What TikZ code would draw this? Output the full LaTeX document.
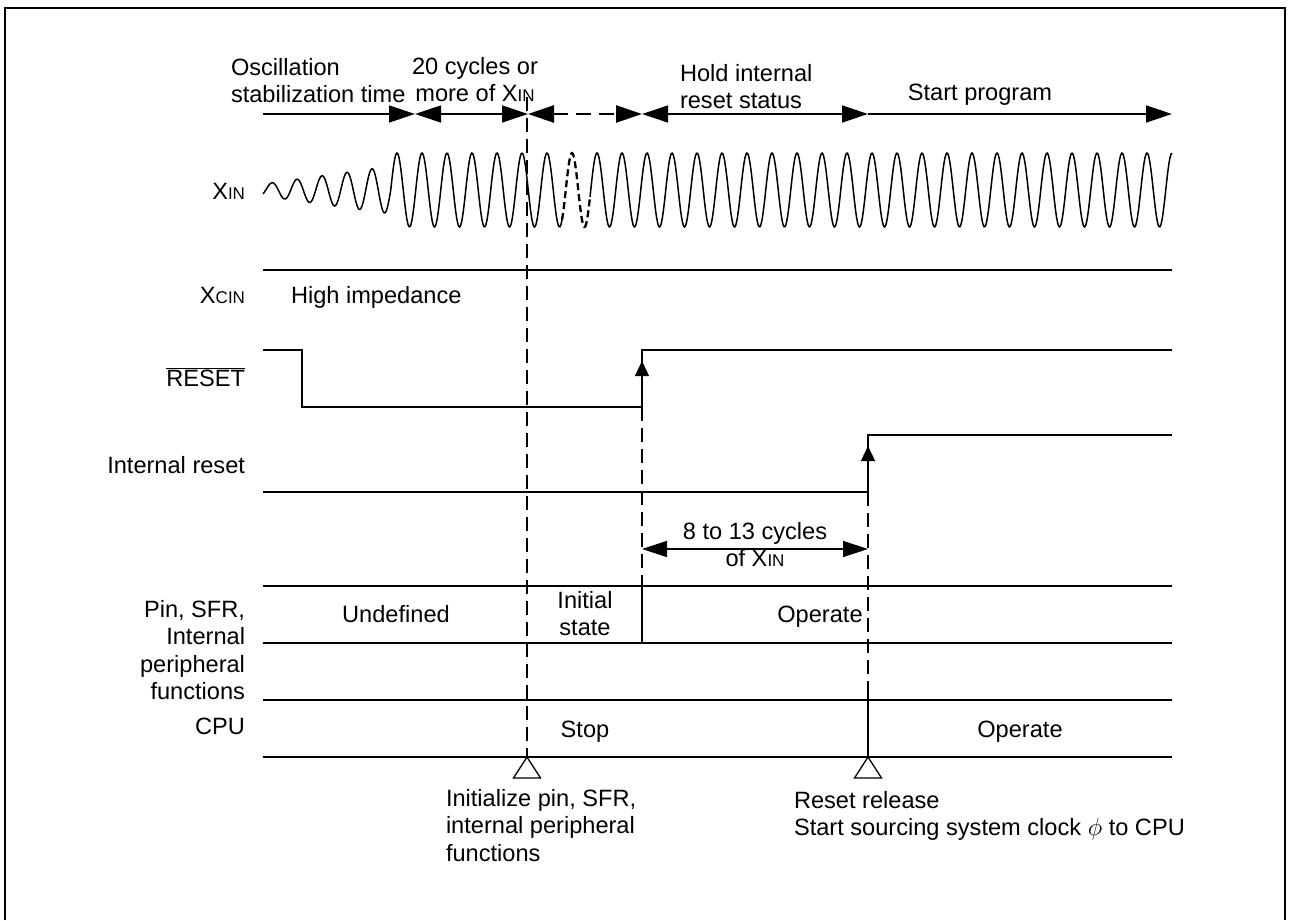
\documentclass[tikz,border=0pt]{standalone}
\usepackage{fontspec}
\setmainfont{Liberation Sans}
\usetikzlibrary{arrows.meta}
\newcommand{\smc}[1]{{\fontsize{17}{17}\selectfont #1}}
\begin{document}
\begin{tikzpicture}[x=1pt,y=-1pt,
  every node/.style={inner sep=0pt, outer sep=0pt, font=\fontsize{23.6}{27.5}\selectfont},
  sig/.style={line width=1.3pt},
  wave/.style={line width=1.5pt},
  guide/.style={line width=2.5pt, dash pattern=on 14pt off 7pt},
  topdash/.style={line width=2.5pt, dash pattern=on 15pt off 8pt},
  bigr/.style={-{Triangle[length=26pt,width=17pt]}},
  bigb/.style={{Triangle[length=26pt,width=17pt]}-{Triangle[length=26pt,width=17pt]}},
  midb/.style={{Triangle[length=25pt,width=16pt]}-{Triangle[length=25pt,width=16pt]}},
  up/.style={-{Triangle[length=15pt,width=14pt]}},
  lbl/.style={anchor=base east},
  blk/.style={anchor=north west, align=left},
]
\useasboundingbox (0,0) rectangle (1289,920);
% frame (open at the bottom)
\draw[line width=2.4pt] (5,920) -- (5,8) -- (1285,8) -- (1285,920);

% key coordinates
\coordinate (t0) at (263,114);
\coordinate (t1) at (415,114);
\coordinate (t2) at (528,114);
\coordinate (t3) at (642,114);
\coordinate (t4) at (868,114);
\coordinate (t5) at (1172,114);

% top time arrows
\draw[sig,bigr] (t0) -- (t1);
\draw[sig,bigb] (t1) -- (t2);
\draw[topdash,bigb] (t2) -- (t3);
\draw[sig,bigb] (t3) -- (t4);
\draw[sig,bigr] (t4) -- (t5);

\node[blk] (osc) at (231,58) {Oscillation\\stabilization time};
\node[anchor=north, align=center] (cyc20) at (475,57) {20 cycles or\\more of X\smc{IN}};
\node[blk] (hold) at (680,64) {Hold internal\\reset status};
\node[anchor=base] (start) at (980,101) {Start program};

% XIN waveform
\node[lbl] (xinl) at (245,200) {X\smc{IN}};
\draw[wave] plot[domain=263:390.75, samples=110] (\x, {190 - (6+0.14*(\x-263))*cos(14.4*(\x-397))});
\draw[wave] plot[domain=390.75:562, samples=170] (\x, {190 - 37*cos(14.4*(\x-397))});
\draw[line width=2.3pt, dash pattern=on 7pt off 4pt] plot[domain=562:590, samples=40] (\x, {190 - 37*cos(14.4*(\x-397))});
\draw[wave] plot[domain=590:1172, samples=580] (\x, {190 - 37*cos(14.4*(\x-397))});

% XCIN
\node[lbl] (xcinl) at (245,303) {X\smc{CIN}};
\draw[sig] (263,270) -- (1172,270);
\node[anchor=base west] (hiz) at (291,303) {High impedance};

% RESET
\node[lbl] (rstl) at (245,386) {$\overline{\mbox{RESET}}$};
\coordinate (r0) at (263,350);
\coordinate (r1) at (302,350);
\coordinate (r2) at (302,407);
\coordinate (r3) at (642,407);
\coordinate (r4) at (642,350);
\coordinate (r5) at (1172,350);
\draw[sig] (r0) -- (r1) -- (r2) -- (r3) -- (r4) -- (r5);
\draw[sig,up] (r3) -- (642,361);

% Internal reset
\node[lbl] (irl) at (245,473) {Internal reset};
\coordinate (i0) at (263,492);
\coordinate (i1) at (868,492);
\coordinate (i2) at (868,435);
\coordinate (i3) at (1172,435);
\draw[sig] (i0) -- (i1) -- (i2) -- (i3);
\draw[sig,up] (i1) -- (868,446);

% 8 to 13 cycles
\coordinate (c0) at (642,549);
\coordinate (c1) at (868,549);
\draw[sig,midb] (c0) -- (c1);
\node[anchor=north, align=center] (cyc8) at (755,522) {8 to 13 cycles\\of X\smc{IN}};

% Pin, SFR row
\node[anchor=north east, align=right] (pinl) at (245,600) {Pin, SFR,\\Internal\\peripheral\\functions};
\draw[sig] (263,586) -- (1172,586);
\draw[sig] (263,643) -- (1172,643);
\node[anchor=base] (undef) at (396,622) {Undefined};
\node[anchor=north, align=center] (init) at (585,591) {Initial\\state};
\node[anchor=base] (oper1) at (820,622) {Operate};

% CPU row
\node[lbl] (cpul) at (245,734) {CPU};
\draw[sig] (263,700) -- (1172,700);
\draw[sig] (263,757) -- (1172,757);
\node[anchor=base] (stop) at (585,737) {Stop};
\node[anchor=base] (oper2) at (1020,737) {Operate};

% vertical guides
\coordinate (g1t) at (527,97);
\coordinate (g1b) at (527,757);
\draw[guide] (g1t) -- (g1b);
\draw[guide] (r3) -- (642,586);
\draw[sig] (642,586) -- (642,643);
\draw[guide] (i1) -- (868,687);
\draw[sig] (868,687) -- (868,757);

% event triangles
\draw[sig,fill=white] (527,757) -- (513.5,778) -- (540.5,778) -- cycle;
\draw[sig,fill=white] (868,757) -- (854.5,778) -- (881.5,778) -- cycle;

\node[blk] (initnote) at (446,789) {Initialize pin, SFR,\\internal peripheral\\functions};
\node[blk] (relnote) at (794,791) {Reset release\\Start sourcing system clock $\phi$ to CPU};
\end{tikzpicture}
\end{document}
